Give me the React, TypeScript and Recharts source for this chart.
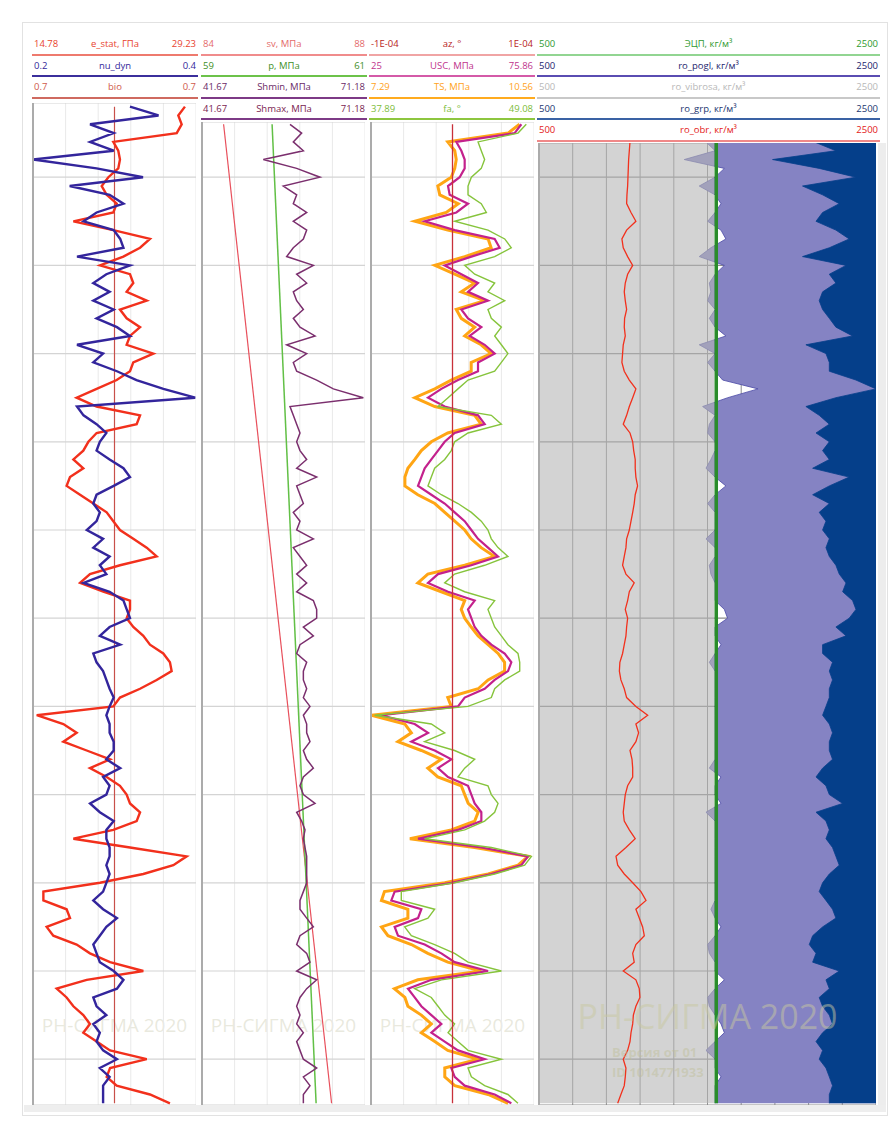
import React from "react";
import { ComposedChart, Line, Area, XAxis, YAxis, CartesianGrid } from "recharts";

// depth in metres below an arbitrary datum, one sample per metre
const BOTTOM_DEPTH = 115;
const GRID_DEPTHS = [10, 20, 30, 40, 50, 60, 70, 80, 90, 100, 110];

// ---- track 1, samples from depth 2
const T1_FIRST = 2;
const E_STAT = [
  28.25, 27.66, 27.96, 27.52, 21.9, 22.34, 22.49, 22.34, 21.46, 20.87,
  21.31, 22.2, 21.9, 18.36, 21.9, 25.15, 24.27, 22.79, 20.72, 23.38,
  23.67, 23.08, 24.86, 22.49, 23.08, 24.27, 23.38, 23.08, 25.45, 23.67,
  23.38, 22.2, 20.42, 18.65, 20.42, 24.27, 23.97, 20.42, 19.69, 19.24,
  18.36, 19.24, 18.06, 17.76, 18.95, 20.13, 21.31, 21.9, 22.49, 23.67,
  24.86, 25.74, 22.49, 19.83, 18.95, 21.01, 23.38, 23.38, 23.08, 23.67,
  24.56, 25.15, 26.33, 26.92, 27.07, 25.74, 24.27, 22.49, 21.9, 15.11,
  17.47, 18.65, 17.47, 19.54, 21.61, 19.83, 21.31, 22.49, 23.08, 23.38,
  24.27, 23.97, 21.9, 18.36, 23.38, 28.4, 27.22, 24.56, 20.72, 15.7,
  15.7, 17.76, 18.06, 15.99, 16.58, 18.65, 19.83, 21.61, 24.56, 19.54,
  16.88, 17.76, 18.36, 19.24, 19.83, 19.24, 20.42, 21.61, 24.86, 21.61,
  21.31, 22.2, 25.15, 26.92,
];
const NU_DYN = [
  0.319, 0.354, 0.27, 0.299, 0.27, 0.299, 0.2, 0.278, 0.335, 0.245,
  0.294, 0.311, 0.278, 0.262, 0.299, 0.307, 0.311, 0.254, 0.319, 0.29,
  0.274, 0.294, 0.274, 0.299, 0.278, 0.303, 0.319, 0.254, 0.286, 0.274,
  0.303, 0.327, 0.36, 0.399, 0.254, 0.262, 0.278, 0.29, 0.282, 0.278,
  0.294, 0.311, 0.319, 0.299, 0.278, 0.274, 0.282, 0.278, 0.266, 0.286,
  0.274, 0.294, 0.282, 0.29, 0.262, 0.294, 0.311, 0.315, 0.319, 0.294,
  0.282, 0.307, 0.274, 0.278, 0.286, 0.29, 0.294, 0.299, 0.294, 0.29,
  0.294, 0.294, 0.299, 0.299, 0.29, 0.307, 0.286, 0.294, 0.29, 0.27,
  0.282, 0.299, 0.29, 0.29, 0.294, 0.294, 0.29, 0.294, 0.29, 0.286,
  0.274, 0.286, 0.303, 0.29, 0.282, 0.274, 0.278, 0.282, 0.299, 0.311,
  0.303, 0.274, 0.278, 0.29, 0.274, 0.282, 0.278, 0.286, 0.303, 0.282,
  0.294, 0.286, 0.286, 0.286,
];
const BIO = [0.7, 0.7]; // top / bottom

// ---- tracks 2 and 3, samples from depth 4
const T23_FIRST = 4;
const SV = [84.53, 87.18];
const P_PORE = [59.86, 60.4];
const SHMIN = [
  57.6, 59.71, 58.2, 60.02, 52.77, 58.81, 63.03, 56.39, 58.81, 58.2,
  60.62, 58.2, 60.62, 60.02, 58.2, 57.0, 61.83, 58.81, 60.62, 58.2,
  58.81, 60.02, 58.2, 59.41, 62.13, 57.0, 60.62, 58.2, 58.81, 62.43,
  65.45, 70.88, 57.6, 58.2, 58.81, 59.41, 58.81, 59.41, 60.62, 58.81,
  62.43, 58.81, 59.41, 60.02, 58.2, 59.41, 58.81, 61.83, 58.2, 59.41,
  60.62, 58.81, 60.62, 58.81, 61.83, 62.43, 62.43, 60.02, 61.83, 59.41,
  58.81, 60.62, 60.02, 60.02, 60.62, 60.02, 61.22, 60.02, 60.62, 60.62,
  61.22, 60.02, 60.62, 61.83, 60.02, 59.41, 60.02, 62.13, 58.81, 59.71,
  60.32, 60.02, 60.32, 60.62, 60.62, 60.62, 60.62, 60.02, 59.41, 59.41,
  60.62, 61.83, 59.41, 58.81, 60.62, 61.22, 58.81, 62.43, 60.62, 59.41,
  58.81, 59.41, 58.81, 60.02, 58.81, 59.41, 60.02, 62.43, 60.02, 61.22,
  60.02, 60.02,
];
const AZ = [0, 0];
const USC = [
  71.91, 69.83, 51.63, 53.19, 54.23, 54.23, 52.67, 49.03, 49.55, 55.27,
  51.63, 41.75, 51.11, 63.59, 65.15, 56.31, 47.99, 53.19, 58.39, 55.27,
  61.51, 53.19, 55.27, 59.43, 55.79, 60.47, 63.59, 58.39, 58.39, 52.15,
  46.95, 42.79, 47.99, 58.39, 60.47, 51.11, 47.99, 45.91, 43.83, 41.75,
  40.71, 39.67, 43.83, 47.99, 51.11, 54.23, 56.31, 58.39, 61.51, 64.63,
  56.31, 45.91, 42.79, 49.03, 57.35, 55.27, 56.31, 57.35, 59.43, 62.55,
  66.71, 68.79, 67.75, 63.59, 60.47, 54.23, 52.15, 28.22, 38.63, 42.79,
  37.58, 44.87, 50.07, 45.91, 49.03, 55.27, 56.31, 57.35, 59.43, 59.43,
  52.15, 39.67, 59.43, 73.99, 71.91, 62.55, 50.07, 32.38, 31.34, 40.71,
  39.67, 32.38, 33.42, 41.75, 46.95, 51.11, 61.51, 43.83, 36.55, 38.63,
  40.71, 43.83, 46.95, 43.83, 47.99, 52.15, 60.47, 50.07, 51.11, 54.23,
  63.59, 68.79,
];
const TS = [
  10.27, 10.04, 8.83, 8.97, 9.0, 8.97, 8.9, 8.63, 8.67, 9.04,
  8.8, 8.17, 8.83, 9.64, 9.7, 9.17, 8.57, 8.97, 9.37, 9.1,
  9.57, 9.0, 9.1, 9.37, 9.17, 9.5, 9.7, 9.3, 9.3, 8.9,
  8.57, 8.17, 8.57, 9.37, 9.5, 8.83, 8.5, 8.3, 8.17, 8.03,
  7.97, 7.97, 8.23, 8.57, 8.77, 8.97, 9.17, 9.3, 9.5, 9.77,
  9.17, 8.43, 8.23, 8.7, 9.17, 9.1, 9.17, 9.3, 9.44, 9.64,
  9.84, 9.97, 9.97, 9.64, 9.44, 8.83, 8.9, 7.3, 7.97, 8.1,
  7.83, 8.3, 8.7, 8.43, 8.63, 9.1, 9.17, 9.24, 9.44, 9.37,
  8.9, 8.07, 9.37, 10.44, 10.24, 9.64, 8.77, 7.56, 7.5, 8.03,
  8.03, 7.5, 7.63, 8.1, 8.43, 8.83, 9.5, 8.23, 7.76, 7.97,
  8.03, 8.3, 8.5, 8.3, 8.57, 8.83, 9.44, 8.77, 8.77, 8.97,
  9.64, 10.04,
];
const FA = [
  48.55, 47.98, 45.24, 45.46, 45.69, 45.46, 44.78, 44.55, 44.55, 45.46,
  45.81, 43.63, 45.92, 47.07, 47.52, 46.38, 44.32, 45.01, 46.38, 45.92,
  47.07, 45.92, 46.15, 46.84, 46.38, 46.84, 47.29, 46.84, 46.38, 44.55,
  43.86, 43.18, 42.49, 46.15, 46.84, 44.55, 43.63, 43.4, 42.95, 42.26,
  42.03, 41.8, 42.72, 43.86, 44.78, 45.46, 45.92, 46.15, 46.61, 47.29,
  45.69, 43.63, 42.95, 44.32, 46.38, 45.92, 46.15, 46.38, 46.84, 47.29,
  47.98, 48.1, 48.1, 47.07, 46.38, 46.15, 44.55, 38.14, 42.03, 42.95,
  41.57, 43.63, 45.01, 44.32, 43.86, 45.92, 46.15, 46.61, 46.38, 45.69,
  44.32, 41.57, 46.15, 48.9, 48.44, 46.38, 43.63, 39.97, 39.97, 42.26,
  41.8, 40.2, 40.66, 42.26, 43.63, 44.55, 46.84, 42.72, 40.89, 42.03,
  42.49, 42.95, 43.63, 43.18, 43.86, 44.55, 46.84, 44.55, 44.78, 45.69,
  47.29, 47.98,
];

// ---- track 4, samples from depth 6
const T4_FIRST = 6;
const ECD = [1552, 1552];
const RO_VIBROSA = [1540, 1540];
const RO_POGL = [
  1491, 1545, 1362, 1600, 1545, 1451, 1545, 1580, 1545, 1501,
  1580, 1609, 1520, 1451, 1600, 1545, 1511, 1520, 1501, 1545,
  1511, 1545, 1609, 1451, 1545, 1501, 1545, 1590, 1800, 1620,
  1471, 1545, 1511, 1501, 1545, 1545, 1520, 1491, 1545, 1609,
  1545, 1501, 1545, 1545, 1545, 1491, 1545, 1545, 1511, 1520,
  1545, 1545, 1545, 1600, 1619, 1545, 1545, 1580, 1545, 1511,
  1545, 1545, 1545, 1545, 1545, 1545, 1545, 1545, 1545, 1545,
  1545, 1511, 1580, 1545, 1545, 1580, 1491, 1545, 1545, 1545,
  1545, 1545, 1545, 1545, 1545, 1545, 1545, 1520, 1545, 1580,
  1545, 1501, 1511, 1545, 1545, 1600, 1545, 1501, 1511, 1545,
  1580, 1600, 1545, 1491, 1545, 1545, 1580, 1545, 1545, 1545,
];
const RO_GRP = [
  2134, 2262, 1886, 2163, 2380, 2064, 2183, 2282, 2183, 2144,
  2262, 2341, 2223, 2064, 2322, 2223, 2262, 2183, 2163, 2183,
  2223, 2262, 2361, 2084, 2203, 2223, 2223, 2381, 2500, 2262,
  2084, 2163, 2223, 2144, 2223, 2183, 2223, 2124, 2341, 2223,
  2124, 2223, 2163, 2203, 2183, 2223, 2203, 2223, 2262, 2282,
  2322, 2302, 2361, 2381, 2341, 2262, 2322, 2183, 2183, 2242,
  2223, 2242, 2223, 2223, 2203, 2183, 2223, 2242, 2223, 2223,
  2242, 2183, 2144, 2203, 2223, 2302, 2144, 2203, 2223, 2203,
  2242, 2262, 2282, 2223, 2183, 2163, 2203, 2242, 2262, 2183,
  2124, 2104, 2144, 2124, 2282, 2203, 2223, 2163, 2183, 2223,
  2242, 2183, 2144, 2183, 2163, 2203, 2223, 2242, 2223, 2223,
];
const RO_OBR = [
  1040, 1036, 1032, 1030, 1028, 1026, 1022, 1020, 1046, 1075,
  1020, 992, 1000, 1026, 1056, 1026, 1012, 1006, 1012, 1020,
  1008, 1006, 1012, 1000, 996, 992, 1006, 1036, 1075, 1056,
  1036, 1020, 1000, 1040, 1056, 1062, 1071, 1071, 1075, 1085,
  1071, 1065, 1056, 1046, 1036, 1020, 1016, 1006, 996, 1016,
  1065, 1036, 1026, 1012, 1026, 1020, 1016, 1006, 996, 980,
  977, 986, 1006, 1020, 1075, 1145, 1075, 1091, 1075, 1040,
  1052, 1056, 1056, 1026, 1012, 1006, 1000, 1006, 1036, 1071,
  1016, 957, 967, 1006, 1056, 1105, 1135, 1075, 1095, 1115,
  1125, 1075, 1056, 1065, 1000, 1075, 1095, 1099, 1075, 1060,
  1056, 1046, 1040, 1026, 1000, 1016, 1012, 1006, 986, 967,
];

// header rows: min, name, max, text colour, underline colour
type HeadRow = { min: string; name: string; max: string; color: string; line: string };
const HEAD_1: HeadRow[] = [
  { min: "14.78", name: "e_stat, ГПа", max: "29.23", color: "#e8432e", line: "#ee7a6e" },
  { min: "0.2", name: "nu_dyn", max: "0.4", color: "#33289a", line: "#3b2f9c" },
  { min: "0.7", name: "bio", max: "0.7", color: "#cf5a4c", line: "#cf6a60" },
];
const HEAD_2: HeadRow[] = [
  { min: "84", name: "sv, МПа", max: "88", color: "#e46a6a", line: "#f08c8c" },
  { min: "59", name: "p, МПа", max: "61", color: "#3f8f1f", line: "#6cc24a" },
  { min: "41.67", name: "Shmin, МПа", max: "71.18", color: "#6a2a66", line: "#7d3a86" },
  { min: "41.67", name: "Shmax, МПа", max: "71.18", color: "#7a2450", line: "#7d3a86" },
];
const HEAD_3: HeadRow[] = [
  { min: "-1E-04", name: "az, °", max: "1E-04", color: "#b81c1c", line: "#f0a4a4" },
  { min: "25", name: "USC, МПа", max: "75.86", color: "#c0348c", line: "#d45aa8" },
  { min: "7.29", name: "TS, МПа", max: "10.56", color: "#ffa21a", line: "#ffab1f" },
  { min: "37.89", name: "fa, °", max: "49.08", color: "#7cbc3a", line: "#8dc63f" },
];
const HEAD_4: HeadRow[] = [
  { min: "500", name: "ЭЦП, кг/м³", max: "2500", color: "#2f9a2f", line: "#92d592" },
  { min: "500", name: "ro_pogl, кг/м³", max: "2500", color: "#25256e", line: "#5a4cb2" },
  { min: "500", name: "ro_vibrosa, кг/м³", max: "2500", color: "#b8b8b8", line: "#c8c8c8" },
  { min: "500", name: "ro_grp, кг/м³", max: "2500", color: "#1c3670", line: "#3a62a4" },
  { min: "500", name: "ro_obr, кг/м³", max: "2500", color: "#e32020", line: "#f08888" },
];

// page geometry: depth d sits at y = Y_AT_DEPTH0 + d * PX_PER_M
const Y_AT_DEPTH0 = 89;
const PX_PER_M = 8.82;
const PLOT_BOTTOM = 1105;
const HEADER_TOP = 34;
const ROW_H = 21.5;
const depthAt = (y: number) => (y - Y_AT_DEPTH0) / PX_PER_M;

function buildRows(first: number, full: Record<string, number[]>, ends: Record<string, number[]>) {
  const rows: any[] = [];
  for (let d = first; d <= BOTTOM_DEPTH; d++) {
    const i = d - first;
    const row: any = { depth: d };
    for (const k in full) row[k] = full[k][i];
    for (const k in ends) row[k] = i === 0 ? ends[k][0] : d === BOTTOM_DEPTH ? ends[k][1] : null;
    rows.push(row);
  }
  return rows;
}

function Header({ left, width, rows }: { left: number; width: number; rows: HeadRow[] }) {
  return (
    <>
      {rows.map((r, i) => (
        <div
          key={r.name}
          style={{
            position: "absolute",
            left,
            top: HEADER_TOP + i * ROW_H,
            width,
            height: ROW_H,
            boxSizing: "border-box",
            borderBottom: `2px solid ${r.line}`,
            color: r.color,
            fontSize: 9.5,
            lineHeight: "19px",
          }}
        >
          <span style={{ position: "absolute", left: 2 }}>{r.min}</span>
          <span style={{ position: "absolute", left: 0, right: 0, textAlign: "center" }}>{r.name}</span>
          <span style={{ position: "absolute", right: 2 }}>{r.max}</span>
        </div>
      ))}
    </>
  );
}

function Plot({
  left,
  width,
  top,
  data,
  cols,
  vGrid,
  hGrid,
  children,
}: {
  left: number;
  width: number;
  top: number;
  data: any[];
  cols: number;
  vGrid: string;
  hGrid: string;
  children: React.ReactNode;
}) {
  const height = PLOT_BOTTOM - top;
  const colTicks = Array.from({ length: cols + 1 }, (_, i) => i);
  return (
    <div style={{ position: "absolute", left, top, width, height }}>
      <ComposedChart
        layout="vertical"
        width={width}
        height={height}
        data={data}
        margin={{ top: 0, right: 0, bottom: 0, left: 0 }}
      >
        <XAxis xAxisId="grid" type="number" domain={[0, cols]} ticks={colTicks} hide allowDataOverflow />
        <YAxis
          type="number"
          dataKey="depth"
          domain={[depthAt(top), depthAt(PLOT_BOTTOM)]}
          ticks={GRID_DEPTHS}
          hide
          allowDataOverflow
        />
        <CartesianGrid xAxisId="grid" horizontal={false} stroke={vGrid} strokeWidth={1} />
        <CartesianGrid xAxisId="grid" vertical={false} stroke={hGrid} strokeWidth={1.2} />
        {children}
      </ComposedChart>
      <div style={{ position: "absolute", left: -1, top: 0, width: 2, height, background: "#ababab" }} />
    </div>
  );
}

function Watermark({ left, width }: { left: number; width: number }) {
  return (
    <div
      style={{
        position: "absolute",
        left,
        width,
        top: 1012,
        textAlign: "center",
        fontSize: 19,
        color: "rgba(205,205,180,0.45)",
        whiteSpace: "nowrap",
      }}
    >
      РН-СИГМА 2020
    </div>
  );
}

export default function App() {
  const t1 = buildRows(T1_FIRST, { e_stat: E_STAT, nu_dyn: NU_DYN }, { bio: BIO });
  const t2 = buildRows(T23_FIRST, { shmin: SHMIN }, { sv: SV, p: P_PORE });
  const t3 = buildRows(T23_FIRST, { usc: USC, ts: TS, fa: FA }, { az: AZ });
  const t4 = buildRows(
    T4_FIRST,
    { pogl: RO_POGL, grp: RO_GRP, obr: RO_OBR },
    { ecd: ECD, vibrosa: RO_VIBROSA }
  );

  return (
    <div
      style={{
        position: "absolute",
        left: 0,
        top: 0,
        width: 895,
        height: 1131,
        background: "#fff",
        overflow: "hidden",
        fontFamily: "'Open Sans', 'Noto Sans', sans-serif",
      }}
    >
      <div
        style={{
          position: "absolute",
          left: 22,
          top: 22,
          width: 866,
          height: 1094,
          border: "1px solid #e2e2e2",
          boxSizing: "border-box",
        }}
      />
      <div style={{ position: "absolute", left: 24, top: 1105, width: 862, height: 7, background: "#eeeeee" }} />
      <div style={{ position: "absolute", left: 878, top: 143, width: 8, height: 962, background: "#ededed" }} />

      <Header left={32} width={166} rows={HEAD_1} />
      <Header left={201} width={166} rows={HEAD_2} />
      <Header left={369} width={166} rows={HEAD_3} />
      <Header left={537} width={343} rows={HEAD_4} />

      <Watermark left={33} width={163} />
      <Watermark left={202} width={163} />
      <Watermark left={371} width={163} />

      <Plot left={33} width={163} top={103} data={t1} cols={5} vGrid="#e9e9e9" hGrid="#d4d4d4">
        <XAxis xAxisId="bio" type="number" domain={[0.6, 0.8]} hide allowDataOverflow />
        <XAxis xAxisId="e" type="number" domain={[14.78, 29.23]} hide allowDataOverflow />
        <XAxis xAxisId="nu" type="number" domain={[0.2, 0.4]} hide allowDataOverflow />
        <Line xAxisId="bio" dataKey="bio" type="linear" stroke="#c8504a" strokeWidth={1.2} dot={false} connectNulls isAnimationActive={false} />
        <Line xAxisId="e" dataKey="e_stat" type="linear" stroke="#f2301c" strokeWidth={2.4} dot={false} isAnimationActive={false} />
        <Line xAxisId="nu" dataKey="nu_dyn" type="linear" stroke="#33259c" strokeWidth={2.4} dot={false} isAnimationActive={false} />
      </Plot>

      <Plot left={202} width={163} top={122} data={t2} cols={5} vGrid="#e9e9e9" hGrid="#d4d4d4">
        <XAxis xAxisId="sv" type="number" domain={[84, 88]} hide allowDataOverflow />
        <XAxis xAxisId="p" type="number" domain={[59, 61]} hide allowDataOverflow />
        <XAxis xAxisId="sh" type="number" domain={[41.67, 71.18]} hide allowDataOverflow />
        <Line xAxisId="sv" dataKey="sv" type="linear" stroke="#e8505c" strokeWidth={1.2} dot={false} connectNulls isAnimationActive={false} />
        <Line xAxisId="p" dataKey="p" type="linear" stroke="#62c046" strokeWidth={1.5} dot={false} connectNulls isAnimationActive={false} />
        <Line xAxisId="sh" dataKey="shmin" type="linear" stroke="#7b2f6e" strokeWidth={1.5} dot={false} isAnimationActive={false} />
      </Plot>

      <Plot left={371} width={163} top={122} data={t3} cols={5} vGrid="#e9e9e9" hGrid="#d4d4d4">
        <XAxis xAxisId="az" type="number" domain={[-0.0001, 0.0001]} hide allowDataOverflow />
        <XAxis xAxisId="usc" type="number" domain={[25, 75.86]} hide allowDataOverflow />
        <XAxis xAxisId="ts" type="number" domain={[7.29, 10.56]} hide allowDataOverflow />
        <XAxis xAxisId="fa" type="number" domain={[37.89, 49.08]} hide allowDataOverflow />
        <Line xAxisId="ts" dataKey="ts" type="linear" stroke="#ffa514" strokeWidth={3} dot={false} isAnimationActive={false} />
        <Line xAxisId="usc" dataKey="usc" type="linear" stroke="#c3218c" strokeWidth={2.2} dot={false} isAnimationActive={false} />
        <Line xAxisId="fa" dataKey="fa" type="linear" stroke="#86c43c" strokeWidth={1.4} dot={false} isAnimationActive={false} />
        <Line xAxisId="az" dataKey="az" type="linear" stroke="#c8303a" strokeWidth={1.3} dot={false} connectNulls isAnimationActive={false} />
      </Plot>

      <Plot left={539} width={337} top={143} data={t4} cols={10} vGrid="#8c8c8c" hGrid="#8c8c8c">
        <XAxis xAxisId="ro" type="number" domain={[500, 2500]} hide allowDataOverflow />
        <Area xAxisId="ro" dataKey="pogl" type="linear" baseValue="dataMax" fill="#8583c3" fillOpacity={1} stroke="#4b4aa6" strokeWidth={0.8} isAnimationActive={false} />
        <Area xAxisId="ro" dataKey="vibrosa" type="linear" baseValue="dataMin" fill="#b6b6b6" fillOpacity={0.6} stroke="none" connectNulls isAnimationActive={false} />
        <Area xAxisId="ro" dataKey="grp" type="linear" baseValue="dataMax" fill="#053f8a" fillOpacity={1} stroke="#053f8a" strokeWidth={0.8} isAnimationActive={false} />
        <Line xAxisId="ro" dataKey="obr" type="linear" stroke="#f2301c" strokeWidth={1.3} dot={false} isAnimationActive={false} />
        <Line xAxisId="ro" dataKey="ecd" type="linear" stroke="#2a8c2a" strokeWidth={3.5} dot={false} connectNulls isAnimationActive={false} />
      </Plot>

      <div
        style={{
          position: "absolute",
          left: 539,
          width: 337,
          top: 993,
          textAlign: "center",
          fontSize: 34,
          color: "rgba(200,200,160,0.5)",
          whiteSpace: "nowrap",
        }}
      >
        РН-СИГМА 2020
      </div>
      <div
        style={{
          position: "absolute",
          left: 612,
          top: 1042,
          fontSize: 13,
          fontWeight: 700,
          lineHeight: "20px",
          color: "rgba(190,190,150,0.45)",
          whiteSpace: "nowrap",
        }}
      >
        Версия от 01
        <br />
        ID 1014771933
      </div>
    </div>
  );
}
